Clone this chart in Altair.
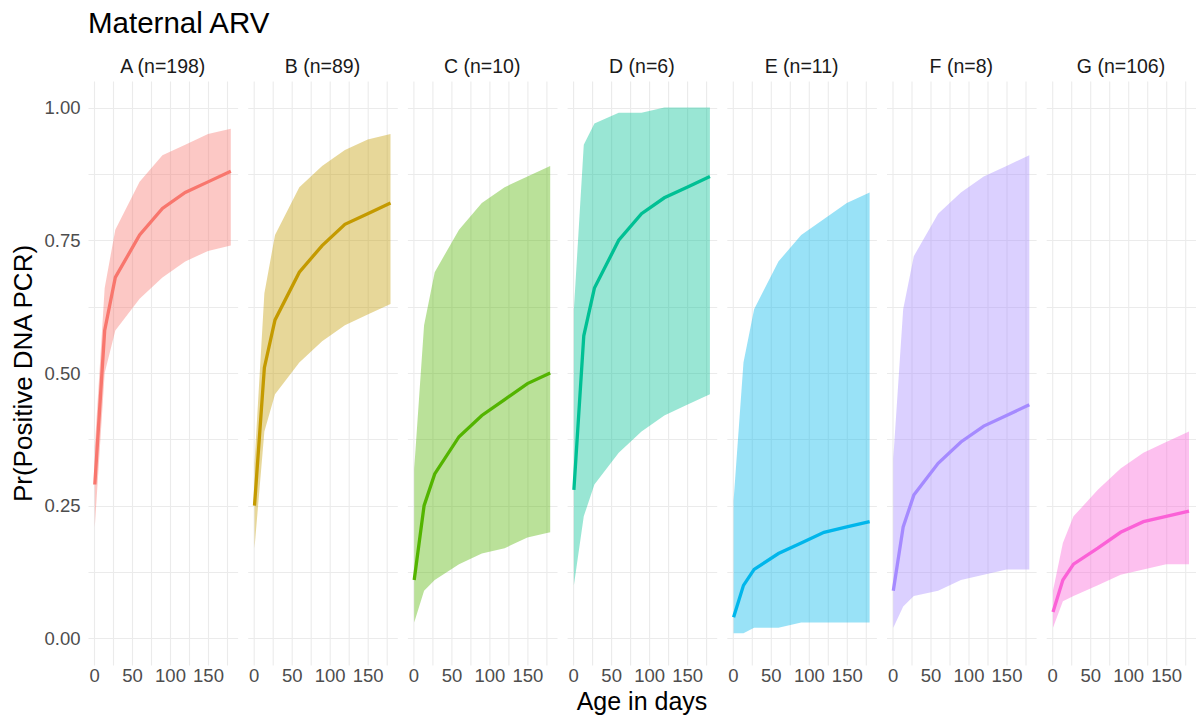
import altair as alt
import pandas as pd

# Ages (days) at which the predicted probability is reported
days = [1, 14, 28, 60, 90, 120, 150, 180]

# Maternal ARV groups shown as facets
panels = ["A (n=198)", "B (n=89)", "C (n=10)", "D (n=6)", "E (n=11)", "F (n=8)", "G (n=106)"]
colors = ["#F8766D", "#C49A00", "#53B400", "#00C094", "#00B6EB", "#A58AFF", "#FB61D7"]

# Point estimates
est_a = [0.29, 0.58, 0.68, 0.76, 0.81, 0.84, 0.86, 0.88]
est_b = [0.25, 0.51, 0.60, 0.69, 0.74, 0.78, 0.80, 0.82]
est_c = [0.11, 0.25, 0.31, 0.38, 0.42, 0.45, 0.48, 0.50]
est_d = [0.28, 0.57, 0.66, 0.75, 0.80, 0.83, 0.85, 0.87]
est_e = [0.04, 0.10, 0.13, 0.16, 0.18, 0.20, 0.21, 0.22]
est_f = [0.09, 0.21, 0.27, 0.33, 0.37, 0.40, 0.42, 0.44]
est_g = [0.05, 0.11, 0.14, 0.17, 0.20, 0.22, 0.23, 0.24]

# Lower interval bounds
lo_a = [0.21, 0.50, 0.58, 0.64, 0.68, 0.71, 0.73, 0.74]
lo_b = [0.17, 0.39, 0.46, 0.52, 0.56, 0.59, 0.61, 0.63]
lo_c = [0.03, 0.09, 0.11, 0.14, 0.16, 0.17, 0.19, 0.20]
lo_d = [0.10, 0.23, 0.29, 0.35, 0.39, 0.42, 0.44, 0.46]
lo_e = [0.01, 0.01, 0.02, 0.02, 0.03, 0.03, 0.03, 0.03]
lo_f = [0.02, 0.06, 0.08, 0.09, 0.11, 0.12, 0.13, 0.13]
lo_g = [0.02, 0.07, 0.08, 0.10, 0.12, 0.13, 0.14, 0.14]

# Upper interval bounds
hi_a = [0.36, 0.66, 0.77, 0.86, 0.91, 0.93, 0.95, 0.96]
hi_b = [0.33, 0.65, 0.76, 0.85, 0.89, 0.92, 0.94, 0.95]
hi_c = [0.32, 0.59, 0.69, 0.77, 0.82, 0.85, 0.87, 0.89]
hi_d = [0.62, 0.93, 0.97, 0.99, 0.99, 1.00, 1.00, 1.00]
hi_e = [0.26, 0.52, 0.62, 0.71, 0.76, 0.79, 0.82, 0.84]
hi_f = [0.34, 0.62, 0.72, 0.80, 0.84, 0.87, 0.89, 0.91]
hi_g = [0.09, 0.18, 0.23, 0.28, 0.32, 0.35, 0.37, 0.39]

ests = [est_a, est_b, est_c, est_d, est_e, est_f, est_g]
los = [lo_a, lo_b, lo_c, lo_d, lo_e, lo_f, lo_g]
his = [hi_a, hi_b, hi_c, hi_d, hi_e, hi_f, hi_g]

rows = []
for name, e, l, h in zip(panels, ests, los, his):
    for d, ev, lv, hv in zip(days, e, l, h):
        rows.append({"panel": name, "day": d, "est": ev, "lo": lv, "hi": hv})
df = pd.DataFrame(rows)

FONT = "Liberation Sans"

x_enc = alt.X(
    "day:Q",
    scale=alt.Scale(domain=[-7.95, 188.95], nice=False, zero=False),
    axis=alt.Axis(
        values=[0, 25, 50, 75, 100, 125, 150, 175],
        labelExpr="datum.value % 50 === 0 ? datum.label : ''",
        title=None,
        ticks=False,
        domain=False,
        labelOverlap=False,
        labelFontSize=18.5,
        labelColor="#4d4d4d",
        labelFont=FONT,
        labelPadding=1,
        grid=True,
        gridColor="#EBEBEB",
        gridWidth=1.1,
    ),
)

y_scale = alt.Scale(domain=[-0.05, 1.05], nice=False, zero=False)
y_axis = alt.Axis(
    values=[0, 0.125, 0.25, 0.375, 0.5, 0.625, 0.75, 0.875, 1.0],
    labelExpr="round(datum.value * 8) % 2 === 0 ? format(datum.value, '.2f') : ''",
    title="Pr(Positive DNA PCR)",
    titleFontSize=26,
    titleFontWeight="normal",
    titleColor="black",
    titleFont=FONT,
    titlePadding=7,
    ticks=False,
    domain=False,
    labelFontSize=18.5,
    labelColor="#4d4d4d",
    labelFont=FONT,
    labelPadding=8,
    grid=True,
    gridColor="#EBEBEB",
    gridWidth=1.1,
)

color_enc = alt.Color(
    "panel:N",
    scale=alt.Scale(domain=panels, range=colors),
    legend=None,
)

band = alt.Chart().mark_area(opacity=0.4).encode(
    x=x_enc,
    y=alt.Y("lo:Q", scale=y_scale, axis=y_axis),
    y2="hi:Q",
    color=color_enc,
)

line = alt.Chart().mark_line(strokeWidth=3.3).encode(
    x=x_enc,
    y=alt.Y("est:Q", scale=y_scale, axis=y_axis),
    color=color_enc,
)

chart = (
    alt.layer(band, line, data=df)
    .properties(width=149.6, height=584)
    .facet(
        column=alt.Column(
            "panel:N",
            sort=panels,
            title="Age in days",
            header=alt.Header(
                labelOrient="top",
                titleOrient="bottom",
                labelFontSize=19.5,
                labelColor="#1a1a1a",
                labelFont=FONT,
                labelPadding=4,
                titleFontSize=25,
                titleFontWeight="normal",
                titleColor="black",
                titleFont=FONT,
                titlePadding=-5,
            ),
        ),
        spacing=9.7,
    )
    .properties(
        title=alt.TitleParams(
            "Maternal ARV",
            anchor="start",
            frame="group",
            fontSize=29.5,
            fontWeight="normal",
            font=FONT,
            color="black",
            offset=17.5,
        ),
        padding={"left": 10, "top": 8, "right": 0, "bottom": 0},
    )
    .configure(background="white", view=alt.ViewConfig(stroke="transparent", strokeWidth=0))
)

chart.save("out.html", embed_options={"renderer": "svg", "actions": False})
